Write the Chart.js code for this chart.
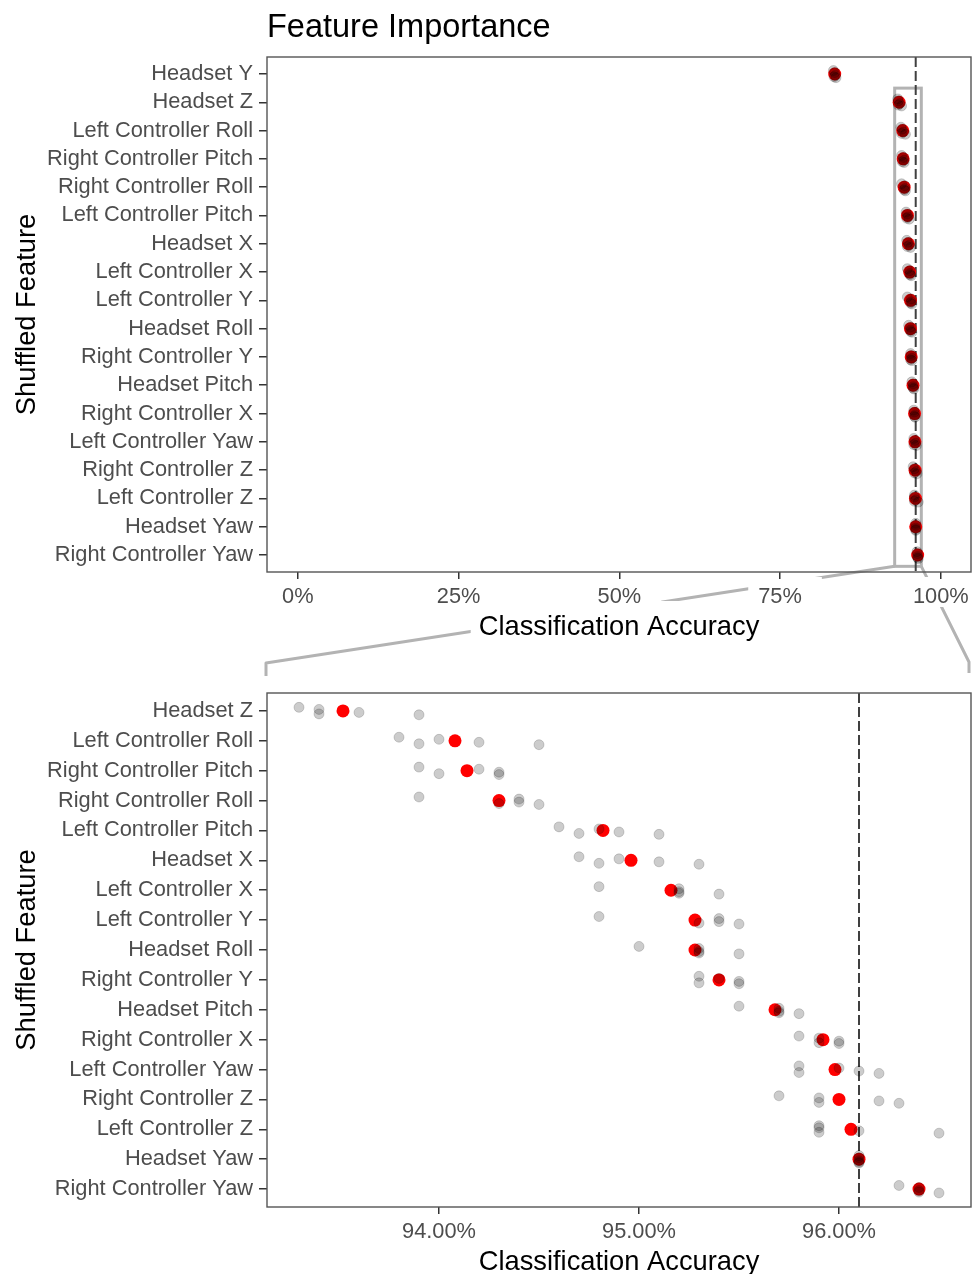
<!DOCTYPE html>
<html>
<head>
<meta charset="utf-8">
<title>Feature Importance</title>
<script src="https://cdn.jsdelivr.net/npm/chart.js@4.4.1/dist/chart.umd.min.js"></script>
<style>
  html, body { margin: 0; padding: 0; background: #fff; }
  #wrap { position: relative; width: 974px; height: 1274px; overflow: hidden; }
  canvas { position: absolute; left: 0; }
  #links { top: 0; z-index: 0; }
  #topChart { top: 0; z-index: 1; }
  #zoomChart { top: 650px; z-index: 1; }
</style>
</head>
<body>
<div id="wrap">
  <canvas id="links" width="974" height="1274"></canvas>
  <canvas id="topChart" width="974" height="650"></canvas>
  <canvas id="zoomChart" width="974" height="624"></canvas>
</div>
<script>
// shuffled features, sorted by mean accuracy
const features = [
  'Headset Y', 'Headset Z', 'Left Controller Roll', 'Right Controller Pitch',
  'Right Controller Roll', 'Left Controller Pitch', 'Headset X', 'Left Controller X',
  'Left Controller Y', 'Headset Roll', 'Right Controller Y', 'Headset Pitch',
  'Right Controller X', 'Left Controller Yaw', 'Right Controller Z', 'Left Controller Z',
  'Headset Yaw', 'Right Controller Yaw'
];

// classification accuracy (%) of the 5 shuffle runs per feature
const runs = [
  [83.3, 83.4, 83.5, 83.6, 83.7],
  [93.3, 93.4, 93.4, 93.6, 93.9],
  [93.8, 93.9, 94.0, 94.2, 94.5],
  [93.9, 94.0, 94.2, 94.3, 94.3],
  [93.9, 94.3, 94.4, 94.4, 94.5],
  [94.6, 94.7, 94.8, 94.9, 95.1],
  [94.7, 94.8, 94.9, 95.1, 95.3],
  [94.8, 95.2, 95.2, 95.2, 95.4],
  [94.8, 95.3, 95.4, 95.4, 95.5],
  [95.0, 95.3, 95.3, 95.3, 95.5],
  [95.3, 95.3, 95.4, 95.5, 95.5],
  [95.5, 95.7, 95.7, 95.7, 95.8],
  [95.8, 95.9, 95.9, 96.0, 96.0],
  [95.8, 95.8, 96.0, 96.1, 96.2],
  [95.7, 95.9, 95.9, 96.2, 96.3],
  [95.9, 95.9, 95.9, 96.1, 96.5],
  [96.1, 96.1, 96.1, 96.1, 96.1],
  [96.3, 96.4, 96.4, 96.4, 96.5]
];

// accuracy without shuffling
const baseline = 96.1;

const topTicks = [0, 25, 50, 75, 100];
const zoomTicks = [94, 95, 96];
const topRange = [-4.8, 104.7];
const zoomRange = [93.14, 96.66];

const FONT = "'Liberation Sans', Arial, Helvetica, sans-serif";
const tickFont = { family: FONT, size: 21.8 };
const axisFont = { family: FONT, size: 27.3, lineHeight: 1 };
const jitter = [-0.12, 0.1, -0.05, 0.05, 0.13];

const mean = arr => arr.reduce((a, b) => a + b, 0) / arr.length;

// rows that fall inside the zoomed range
const zoomRows = features.map((f, i) => i).filter(i => Math.min(...runs[i]) >= zoomRange[0]);

function pointSets(rows) {
  const gray = [];
  const red = [];
  rows.forEach((fi, row) => {
    runs[fi].forEach((v, j) => gray.push({ x: v, y: row + jitter[j] }));
    red.push({ x: mean(runs[fi]), y: row });
  });
  return [
    { data: gray, backgroundColor: 'rgba(0,0,0,0.2)', borderColor: 'rgba(0,0,0,0.16)', borderWidth: 1, pointRadius: 5, pointHoverRadius: 5 },
    { data: red, backgroundColor: '#ff0000', borderColor: '#ff0000', borderWidth: 0, pointRadius: 6.5, pointHoverRadius: 6.5 }
  ];
}

// panel border, dashed baseline, zoom box and title
function decoPlugin(isTop) {
  return {
    id: 'deco',
    beforeDraw(chart) {
      if (!isTop) return;
      // white boxes under axis text so the zoom links pass behind them
      const { ctx, scales: { x } } = chart;
      ctx.save();
      ctx.fillStyle = '#fff';
      ctx.font = tickFont.size + 'px ' + FONT;
      topTicks.forEach(v => {
        const w = ctx.measureText(v + '%').width;
        const px = x.getPixelForValue(v);
        ctx.fillRect(px - w / 2 - 10, x.top + 5, w + 30, 30);
      });
      ctx.font = axisFont.size + 'px ' + FONT;
      const tw = ctx.measureText('Classification Accuracy').width;
      const cx = (x.left + x.right) / 2;
      ctx.fillRect(cx - tw / 2 - 8, x.top + 29, tw + 16, 48);
      ctx.restore();
    },
    beforeDatasetsDraw(chart) {
      const { ctx, chartArea: a, scales: { x, y } } = chart;
      ctx.save();
      if (isTop) {
        const x0 = x.getPixelForValue(zoomRange[0]) - 2;
        const x1 = x.getPixelForValue(zoomRange[1]) + 2;
        const y0 = y.getPixelForValue(zoomRows[0] - 0.5);
        const y1 = y.getPixelForValue(zoomRows[zoomRows.length - 1] + 0.4);
        ctx.strokeStyle = '#b3b3b3';
        ctx.lineWidth = 3;
        ctx.strokeRect(x0, y0, x1 - x0, y1 - y0);
      }
      const bx = x.getPixelForValue(baseline);
      ctx.strokeStyle = '#404040';
      ctx.lineWidth = 2;
      ctx.setLineDash([10, 4]);
      ctx.beginPath();
      ctx.moveTo(bx, a.top);
      ctx.lineTo(bx, a.bottom);
      ctx.stroke();
      ctx.restore();
    },
    afterDraw(chart) {
      const { ctx, chartArea: a } = chart;
      ctx.save();
      ctx.strokeStyle = '#555';
      ctx.lineWidth = 1.4;
      ctx.strokeRect(a.left, a.top, a.right - a.left, a.bottom - a.top);
      if (isTop) {
        ctx.fillStyle = '#000';
        ctx.font = '32.5px ' + FONT;
        ctx.textBaseline = 'alphabetic';
        ctx.fillText('Feature Importance', a.left, 37);
      }
      ctx.restore();
    }
  };
}

function makeOptions(cfg) {
  return {
    responsive: false,
    animation: false,
    devicePixelRatio: 1,
    events: [],
    layout: { autoPadding: false, padding: { top: cfg.padTop, right: 3, left: 0, bottom: 0 } },
    plugins: { legend: { display: false }, tooltip: { enabled: false }, title: { display: false } },
    scales: {
      x: {
        type: 'linear',
        min: cfg.range[0],
        max: cfg.range[1],
        afterBuildTicks: s => { s.ticks = cfg.ticks.map(v => ({ value: v })); },
        afterFit: s => { s.height = cfg.xHeight; },
        ticks: { callback: cfg.format, font: tickFont, color: '#4d4d4d', padding: 5, maxRotation: 0, autoSkip: false },
        grid: { drawOnChartArea: false, tickLength: 7, color: '#333', lineWidth: 1.5 },
        border: { display: false },
        title: { display: true, text: 'Classification Accuracy', font: axisFont, color: '#000', padding: { top: 0, bottom: cfg.titlePad } }
      },
      y: {
        type: 'linear',
        reverse: true,
        min: -0.6,
        max: cfg.names.length - 0.4,
        afterBuildTicks: s => { s.ticks = cfg.names.map((n, i) => ({ value: i })); },
        afterFit: s => { s.width = 267; },
        ticks: { callback: v => cfg.names[v], font: tickFont, color: '#4d4d4d', padding: 6, autoSkip: false },
        grid: { drawOnChartArea: false, tickLength: 8, color: '#333', lineWidth: 1.5 },
        border: { display: false },
        title: { display: true, text: 'Shuffled Feature', font: axisFont, color: '#000', padding: { top: 13.5, bottom: 0 } }
      }
    }
  };
}

const allRows = features.map((f, i) => i);

const topChart = new Chart(document.querySelector('#topChart').getContext('2d'), {
  type: 'scatter',
  data: { datasets: pointSets(allRows) },
  options: makeOptions({
    padTop: 57, xHeight: 78, titlePad: 8.5,
    range: topRange, ticks: topTicks, format: v => v + '%',
    names: features
  }),
  plugins: [decoPlugin(true)]
});

const zoomChart = new Chart(document.querySelector('#zoomChart').getContext('2d'), {
  type: 'scatter',
  data: { datasets: pointSets(zoomRows) },
  options: makeOptions({
    padTop: 43, xHeight: 67, titlePad: -2.5,
    range: zoomRange, ticks: zoomTicks, format: v => v.toFixed(2) + '%',
    names: zoomRows.map(i => features[i])
  }),
  plugins: [decoPlugin(false)]
});

// links between zoom box and zoomed panel
const links = document.querySelector('#links').getContext('2d');
const tx = topChart.scales.x;
const ty = topChart.scales.y;
const za = zoomChart.chartArea;
const zoomTop = 650 + za.top;
const boxBottom = ty.getPixelForValue(zoomRows[zoomRows.length - 1] + 0.4);

links.strokeStyle = '#b3b3b3';
links.lineWidth = 3;
links.lineJoin = 'round';
links.beginPath();
links.moveTo(tx.getPixelForValue(zoomRange[0]) - 2, boxBottom);
links.lineTo(za.left - 1, zoomTop - 30);
links.lineTo(za.left - 1, zoomTop - 17);
links.moveTo(tx.getPixelForValue(zoomRange[1]) + 2, boxBottom);
links.lineTo(za.right - 2, zoomTop - 31);
links.lineTo(za.right - 2, zoomTop - 20);
links.stroke();
</script>
</body>
</html>
